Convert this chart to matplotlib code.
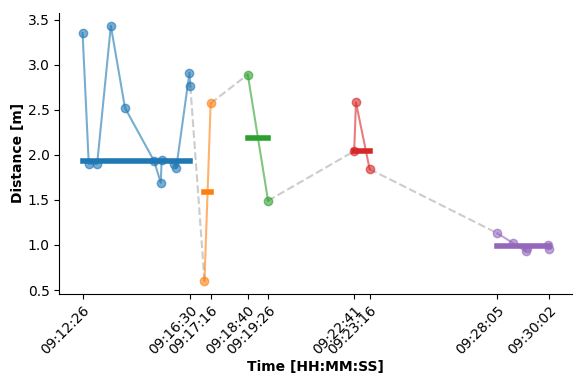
import numpy as np
import pandas as pd
import matplotlib
matplotlib.use("Agg")
import matplotlib.pyplot as plt
import matplotlib.dates as mdates

# segment data: timestamps (HH:MM:SS) and distances [m]
times_1 = ["09:12:26", "09:12:40", "09:12:59", "09:13:30", "09:14:02", "09:15:08",
           "09:15:23", "09:15:25", "09:15:54", "09:15:58", "09:16:28", "09:16:30"]
dist_1 = [3.35, 1.90, 1.90, 3.43, 2.52, 1.93, 1.69, 1.94, 1.90, 1.85, 2.91, 2.76]

times_2 = ["09:17:02", "09:17:16"]
dist_2 = [0.60, 2.57]

times_3 = ["09:18:40", "09:19:26"]
dist_3 = [2.89, 1.49]

times_4 = ["09:22:41", "09:22:45", "09:23:16"]
dist_4 = [2.04, 2.58, 1.84]

times_5 = ["09:28:05", "09:28:41", "09:29:09", "09:29:12", "09:30:00", "09:30:02"]
dist_5 = [1.13, 1.02, 0.93, 0.97, 1.00, 0.96]

tick_times = ["09:12:26", "09:16:30", "09:17:16", "09:18:40", "09:19:26",
              "09:22:41", "09:23:16", "09:28:05", "09:30:02"]

colors = ["tab:blue", "tab:orange", "tab:green", "tab:red", "tab:purple"]


def to_dt(ts):
    return pd.to_datetime(["2022-11-03 " + t for t in ts])


segments = [(to_dt(times_1), dist_1), (to_dt(times_2), dist_2), (to_dt(times_3), dist_3),
            (to_dt(times_4), dist_4), (to_dt(times_5), dist_5)]

fig, ax = plt.subplots(figsize=(5.81, 3.84), dpi=100)
fig.subplots_adjust(left=0.102, right=0.985, bottom=0.235, top=0.966)

# dashed gray links between segments
for (t0, d0), (t1, d1) in zip(segments[:-1], segments[1:]):
    ax.plot([t0[-1], t1[0]], [d0[-1], d1[0]], ls="--", color="#cccccc", lw=1.5, zorder=1)

for (t, d), c in zip(segments, colors):
    ax.plot(t, d, "-o", color=c, alpha=0.6, lw=1.5, ms=6, zorder=2)
    med = np.median(d)
    ax.plot([t[0], t[-1]], [med, med], color=c, lw=4, zorder=3)

ax.set_xticks(to_dt(tick_times))
ax.xaxis.set_major_formatter(mdates.DateFormatter("%H:%M:%S"))
plt.setp(ax.get_xticklabels(), rotation=45, ha="right", rotation_mode="anchor")

ax.set_xlabel("Time [HH:MM:SS]", fontweight="bold", labelpad=2)
ax.set_ylabel("Distance [m]", fontweight="bold", labelpad=2)
ax.spines["top"].set_visible(False)
ax.spines["right"].set_visible(False)

fig.savefig("out.png", dpi=100)
